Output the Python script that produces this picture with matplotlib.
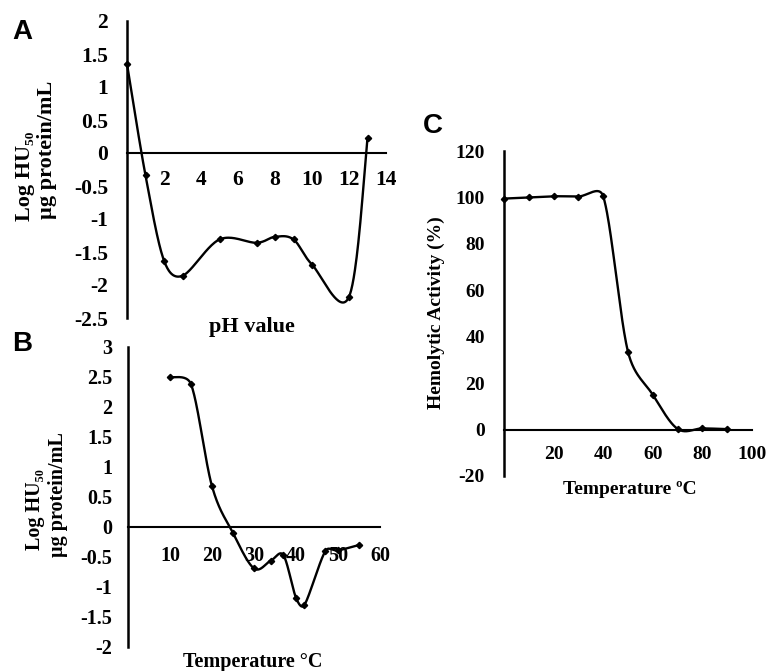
#!/usr/bin/env python3

import matplotlib
matplotlib.use("Agg")
import matplotlib.pyplot as plt
import numpy as np

# panel A: pH stability
ph = [0, 1, 2, 3, 5, 7, 8, 9, 10, 12, 13]
ph_log_hu = [1.35, -0.34, -1.63, -1.86, -1.31, -1.36, -1.27, -1.31, -1.69, -2.18, 0.22]

# panel B: temperature (log HU50)
temp_b = [10, 15, 20, 25, 30, 34, 37, 40, 42, 47, 50, 55]
temp_log_hu = [2.5, 2.38, 0.68, -0.1, -0.69, -0.56, -0.47, -1.18, -1.3, -0.4, -0.39, -0.3]

# panel C: temperature (hemolytic activity %)
temp_c = [0, 10, 20, 30, 40, 50, 60, 70, 80, 90]
activity = [99.5, 100.0, 100.5, 100.4, 100.5, 33.5, 15.0, 0.3, 0.5, 0.2]

W, H = 766, 671
SERIF = ["Liberation Serif", "DejaVu Serif"]
plt.rcParams["axes.unicode_minus"] = False


def px_axes(fig, left, top, right, bottom):
    return fig.add_axes([left / W, 1 - bottom / H, (right - left) / W, (bottom - top) / H])


def fig_text(fig, x, y, s, **kw):
    fig.text(x / W, 1 - y / H, s, ha="center", va="center", **kw)


def excel_smooth(ax, xs, ys, n=40):
    # Excel style smoothed line, computed in screen space
    pts = ax.transData.transform(np.column_stack([xs, ys]))
    P = np.vstack([pts[0], pts, pts[-1]])
    out = []
    t = np.linspace(0, 1, n)[:, None]
    for i in range(1, len(P) - 2):
        p0, p1, p2, p3 = P[i - 1], P[i], P[i + 1], P[i + 2]
        d12 = np.hypot(*(p2 - p1))
        d02 = np.hypot(*(p2 - p0))
        d13 = np.hypot(*(p3 - p1))
        f1 = 1 / 6 if d02 / 6 < d12 / 2 else (d12 / 2 / d02 if d02 > 0 else 0)
        f2 = 1 / 6 if d13 / 6 < d12 / 2 else (d12 / 2 / d13 if d13 > 0 else 0)
        c1 = p1 + f1 * (p2 - p0)
        c2 = p2 - f2 * (p3 - p1)
        bez = (1 - t) ** 3 * p1 + 3 * (1 - t) ** 2 * t * c1 + 3 * (1 - t) * t ** 2 * c2 + t ** 3 * p2
        out.append(bez if i == 1 else bez[1:])
    data = ax.transData.inverted().transform(np.vstack(out))
    return data[:, 0], data[:, 1]


def style_axes(ax, xlim, ylim, xticks, yticks, fs, ypad, xpad):
    ax.set_xlim(*xlim)
    ax.set_ylim(*ylim)
    ax.patch.set_alpha(0)
    for s in ("top", "right"):
        ax.spines[s].set_visible(False)
    ax.spines["left"].set_linewidth(1.8)
    ax.spines["bottom"].set_linewidth(1.5)
    ax.spines["bottom"].set_position(("data", 0))
    ax.set_xticks(xticks)
    ax.set_yticks(yticks)
    ax.set_xticklabels([f"{v:g}" for v in xticks], fontfamily=SERIF, fontweight="bold", fontsize=fs)
    ax.set_yticklabels([f"{v:g}" for v in yticks], fontfamily=SERIF, fontweight="bold", fontsize=fs)
    ax.tick_params(axis="both", length=0)
    ax.tick_params(axis="y", pad=ypad)
    ax.tick_params(axis="x", pad=xpad)


def draw_series(ax, xs, ys):
    sx, sy = excel_smooth(ax, xs, ys)
    ax.plot(sx, sy, color="black", lw=1.7, clip_on=False)
    ax.plot(xs, ys, "D", color="black", ms=3.2, clip_on=False)


fig = plt.figure(figsize=(W / 100, H / 100), dpi=100)

# A
axA = px_axes(fig, 127, 21, 386, 318)
style_axes(axA, (0, 14), (-2.5, 2), [2, 4, 6, 8, 10, 12, 14],
           [2, 1.5, 1, 0.5, 0, -0.5, -1, -1.5, -2, -2.5], fs=15.5, ypad=13.7, xpad=12.5)
draw_series(axA, ph, ph_log_hu)

# B
axB = px_axes(fig, 128, 347, 380, 647)
style_axes(axB, (0, 60), (-2, 3), [10, 20, 30, 40, 50, 60],
           [3, 2.5, 2, 1.5, 1, 0.5, 0, -0.5, -1, -1.5, -2], fs=14.5, ypad=11.5, xpad=14)
draw_series(axB, temp_b, temp_log_hu)

# C
axC = px_axes(fig, 504, 151, 752, 476)
style_axes(axC, (0, 100), (-20, 120), [20, 40, 60, 80, 100],
           [120, 100, 80, 60, 40, 20, 0, -20], fs=14, ypad=13.7, xpad=11.5)
draw_series(axC, temp_c, activity)

labA = dict(fontfamily=SERIF, fontweight="bold", fontsize=16)
fig_text(fig, 25, 176, "Log HU\u2085\u2080", rotation=90, **labA)
fig_text(fig, 47, 150, "\u00b5g protein/mL", rotation=90, **labA)
fig_text(fig, 252, 327, "pH value", **labA)

labB = dict(fontfamily=SERIF, fontweight="bold", fontsize=14.5)
fig_text(fig, 35, 510, "Log HU\u2085\u2080", rotation=90, **labB)
fig_text(fig, 58, 495, "\u00b5g protein/mL", rotation=90, **labB)
fig_text(fig, 253, 662, "Temperature \u00b0C", **labB)

labC = dict(fontfamily=SERIF, fontweight="bold", fontsize=14)
fig_text(fig, 436, 313, "Hemolytic Activity (%)", rotation=90, **labC)
fig_text(fig, 630, 490, "Temperature \u00baC", **labC)

letters = dict(fontfamily=["Liberation Sans", "DejaVu Sans"], fontweight="bold", fontsize=20)
fig_text(fig, 22, 32, "A", **letters)
fig_text(fig, 22, 344, "B", **letters)
fig_text(fig, 433, 126, "C", **letters)

fig.savefig("out.png", dpi=100)
